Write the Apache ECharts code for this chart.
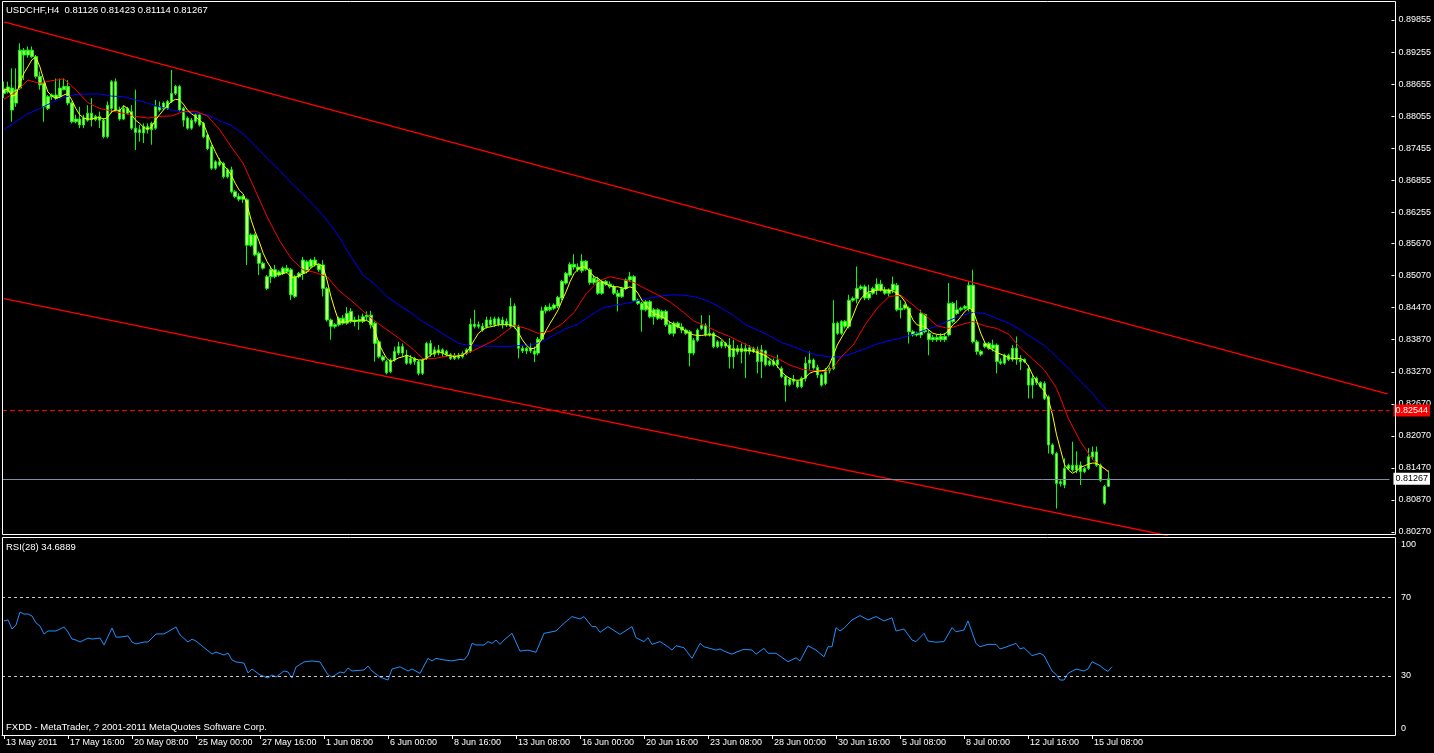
<!DOCTYPE html>
<html><head><meta charset="utf-8">
<script src="https://cdn.jsdelivr.net/npm/echarts@6/dist/echarts.min.js"></script>
<style>html,body{margin:0;padding:0;background:#000;}#c{width:1434px;height:753px;}</style>
</head><body><div id="c"></div>
<script>
// ---- data ----
const header = 'USDCHF,H4  0.81126 0.81423 0.81114 0.81267';
const rsiTitle = 'RSI(28) 34.6889';
const footer = 'FXDD - MetaTrader, ? 2001-2011 MetaQuotes Software Corp.';

// [open, close, low, high] per H4 bar
const candles = [
[0.8848,0.8856,0.8839,0.8870],[0.8851,0.8860,0.8848,0.8870],[0.8858,0.8817,0.8795,0.8895],[0.8830,0.8855,0.8823,0.8895],
[0.8858,0.8929,0.8855,0.8942],[0.8929,0.8920,0.8873,0.8933],[0.8920,0.8929,0.8915,0.8936],[0.8929,0.8917,0.8914,0.8936],
[0.8917,0.8880,0.8876,0.8920],[0.8880,0.8864,0.8855,0.8889],[0.8867,0.8823,0.8795,0.8870],[0.8820,0.8842,0.8817,0.8845],
[0.8842,0.8845,0.8836,0.8848],[0.8845,0.8839,0.8836,0.8876],[0.8842,0.8858,0.8839,0.8876],[0.8855,0.8861,0.8854,0.8876],
[0.8861,0.8830,0.8826,0.8873],[0.8830,0.8795,0.8792,0.8833],[0.8795,0.8800,0.8792,0.8808],[0.8800,0.8789,0.8783,0.8823],
[0.8789,0.8802,0.8783,0.8808],[0.8798,0.8811,0.8795,0.8826],[0.8811,0.8799,0.8786,0.8839],[0.8799,0.8805,0.8796,0.8808],
[0.8805,0.8798,0.8783,0.8814],[0.8798,0.8767,0.8764,0.8802],[0.8767,0.8826,0.8764,0.8833],[0.8820,0.8870,0.8811,0.8873],
[0.8870,0.8817,0.8814,0.8876],[0.8817,0.8800,0.8797,0.8823],[0.8800,0.8820,0.8798,0.8826],[0.8820,0.8811,0.8808,0.8823],
[0.8814,0.8783,0.8780,0.8826],[0.8783,0.8775,0.8742,0.8855],[0.8775,0.8780,0.8758,0.8789],[0.8774,0.8786,0.8755,0.8792],
[0.8786,0.8780,0.8773,0.8792],[0.8780,0.8792,0.8752,0.8795],[0.8783,0.8823,0.8780,0.8836],[0.8823,0.8817,0.8814,0.8833],
[0.8820,0.8830,0.8817,0.8833],[0.8820,0.8833,0.8817,0.8836],[0.8833,0.8848,0.8830,0.8892],[0.8848,0.8861,0.8845,0.8864],
[0.8861,0.8817,0.8814,0.8864],[0.8820,0.8798,0.8786,0.8823],[0.8802,0.8783,0.8780,0.8805],[0.8783,0.8798,0.8780,0.8802],
[0.8796,0.8808,0.8792,0.8811],[0.8808,0.8789,0.8786,0.8811],[0.8792,0.8767,0.8764,0.8795],[0.8770,0.8745,0.8742,0.8773],
[0.8748,0.8708,0.8705,0.8752],[0.8708,0.8720,0.8705,0.8723],[0.8720,0.8714,0.8711,0.8727],[0.8717,0.8692,0.8689,0.8720],
[0.8692,0.8705,0.8689,0.8708],[0.8705,0.8664,0.8661,0.8711],[0.8664,0.8655,0.8652,0.8667],[0.8655,0.8650,0.8646,0.8661],
[0.8650,0.8655,0.8643,0.8658],[0.8649,0.8564,0.8527,0.8652],[0.8564,0.8583,0.8561,0.8586],[0.8583,0.8546,0.8543,0.8586],
[0.8549,0.8530,0.8508,0.8552],[0.8530,0.8521,0.8518,0.8533],[0.8505,0.8483,0.8480,0.8508],[0.8505,0.8518,0.8493,0.8524],
[0.8518,0.8505,0.8502,0.8527],[0.8508,0.8514,0.8505,0.8517],[0.8511,0.8521,0.8508,0.8524],[0.8521,0.8514,0.8511,0.8527],
[0.8518,0.8471,0.8461,0.8521],[0.8468,0.8505,0.8465,0.8508],[0.8505,0.8511,0.8502,0.8514],[0.8511,0.8536,0.8499,0.8542],
[0.8533,0.8515,0.8511,0.8536],[0.8524,0.8536,0.8521,0.8539],[0.8536,0.8527,0.8524,0.8542],[0.8527,0.8518,0.8514,0.8530],
[0.8527,0.8483,0.8468,0.8536],[0.8483,0.8424,0.8421,0.8486],[0.8424,0.8412,0.8387,0.8427],[0.8412,0.8415,0.8408,0.8418],
[0.8415,0.8427,0.8412,0.8430],[0.8427,0.8418,0.8415,0.8433],[0.8418,0.8436,0.8415,0.8448],[0.8440,0.8421,0.8418,0.8446],
[0.8421,0.8424,0.8412,0.8430],[0.8424,0.8421,0.8405,0.8433],[0.8421,0.8430,0.8418,0.8436],[0.8430,0.8433,0.8424,0.8440],
[0.8433,0.8415,0.8408,0.8441],[0.8418,0.8380,0.8346,0.8421],[0.8383,0.8355,0.8352,0.8386],[0.8355,0.8349,0.8346,0.8358],
[0.8346,0.8325,0.8322,0.8349],[0.8327,0.8349,0.8324,0.8352],[0.8349,0.8365,0.8346,0.8374],[0.8362,0.8374,0.8358,0.8383],
[0.8374,0.8362,0.8355,0.8380],[0.8358,0.8343,0.8340,0.8368],[0.8343,0.8352,0.8340,0.8358],[0.8352,0.8346,0.8340,0.8355],
[0.8346,0.8324,0.8320,0.8349],[0.8324,0.8349,0.8321,0.8352],[0.8352,0.8380,0.8349,0.8383],[0.8380,0.8360,0.8355,0.8386],
[0.8360,0.8368,0.8355,0.8374],[0.8368,0.8362,0.8358,0.8377],[0.8362,0.8368,0.8355,0.8371],[0.8365,0.8359,0.8355,0.8368],
[0.8359,0.8352,0.8349,0.8362],[0.8352,0.8358,0.8349,0.8362],[0.8358,0.8353,0.8350,0.8362],[0.8355,0.8361,0.8352,0.8365],
[0.8361,0.8368,0.8358,0.8371],[0.8365,0.8416,0.8362,0.8427],[0.8416,0.8412,0.8408,0.8443],[0.8412,0.8415,0.8408,0.8421],
[0.8412,0.8405,0.8402,0.8418],[0.8411,0.8424,0.8408,0.8430],[0.8424,0.8415,0.8412,0.8430],[0.8415,0.8426,0.8411,0.8430],
[0.8426,0.8416,0.8412,0.8430],[0.8416,0.8424,0.8408,0.8430],[0.8421,0.8415,0.8411,0.8427],[0.8412,0.8449,0.8408,0.8465],
[0.8450,0.8412,0.8408,0.8455],[0.8412,0.8371,0.8352,0.8415],[0.8371,0.8366,0.8362,0.8377],[0.8366,0.8371,0.8360,0.8374],
[0.8371,0.8366,0.8362,0.8380],[0.8366,0.8360,0.8345,0.8374],[0.8362,0.8388,0.8358,0.8392],[0.8388,0.8441,0.8385,0.8449],
[0.8441,0.8448,0.8436,0.8452],[0.8448,0.8443,0.8440,0.8455],[0.8446,0.8452,0.8443,0.8455],[0.8450,0.8466,0.8446,0.8469],
[0.8465,0.8496,0.8461,0.8499],[0.8493,0.8511,0.8490,0.8514],[0.8508,0.8528,0.8505,0.8532],[0.8528,0.8523,0.8518,0.8547],
[0.8523,0.8518,0.8514,0.8530],[0.8516,0.8534,0.8512,0.8547],[0.8534,0.8519,0.8516,0.8536],[0.8518,0.8494,0.8490,0.8521],
[0.8494,0.8502,0.8490,0.8508],[0.8499,0.8474,0.8471,0.8505],[0.8474,0.8496,0.8471,0.8499],[0.8496,0.8491,0.8488,0.8499],
[0.8491,0.8486,0.8483,0.8496],[0.8486,0.8474,0.8471,0.8490],[0.8474,0.8468,0.8440,0.8480],[0.8468,0.8483,0.8465,0.8486],
[0.8483,0.8499,0.8480,0.8502],[0.8499,0.8505,0.8496,0.8514],[0.8505,0.8461,0.8458,0.8508],[0.8461,0.8455,0.8452,0.8464],
[0.8455,0.8443,0.8402,0.8458],[0.8443,0.8458,0.8440,0.8461],[0.8458,0.8430,0.8427,0.8461],[0.8430,0.8443,0.8415,0.8446],
[0.8443,0.8427,0.8424,0.8446],[0.8427,0.8440,0.8424,0.8443],[0.8440,0.8415,0.8411,0.8443],[0.8415,0.8399,0.8396,0.8421],
[0.8399,0.8418,0.8393,0.8421],[0.8418,0.8411,0.8408,0.8421],[0.8411,0.8405,0.8399,0.8418],[0.8405,0.8399,0.8396,0.8408],
[0.8402,0.8362,0.8337,0.8405],[0.8362,0.8386,0.8358,0.8390],[0.8386,0.8405,0.8383,0.8408],[0.8408,0.8414,0.8405,0.8433],
[0.8414,0.8396,0.8393,0.8418],[0.8396,0.8399,0.8393,0.8433],[0.8399,0.8374,0.8371,0.8402],[0.8374,0.8383,0.8371,0.8386],
[0.8383,0.8375,0.8371,0.8386],[0.8375,0.8380,0.8371,0.8383],[0.8377,0.8355,0.8333,0.8390],[0.8355,0.8371,0.8333,0.8387],
[0.8371,0.8364,0.8359,0.8377],[0.8364,0.8371,0.8343,0.8380],[0.8371,0.8365,0.8315,0.8380],[0.8365,0.8372,0.8359,0.8377],
[0.8371,0.8365,0.8362,0.8374],[0.8368,0.8346,0.8324,0.8374],[0.8346,0.8368,0.8315,0.8377],[0.8366,0.8340,0.8337,0.8368],
[0.8340,0.8347,0.8337,0.8350],[0.8347,0.8340,0.8337,0.8352],[0.8340,0.8349,0.8334,0.8359],[0.8333,0.8318,0.8315,0.8337],
[0.8318,0.8302,0.8271,0.8321],[0.8303,0.8313,0.8300,0.8316],[0.8313,0.8309,0.8303,0.8321],[0.8309,0.8299,0.8296,0.8312],
[0.8299,0.8315,0.8296,0.8318],[0.8315,0.8343,0.8309,0.8355],[0.8343,0.8349,0.8331,0.8365],[0.8349,0.8334,0.8331,0.8352],
[0.8335,0.8321,0.8315,0.8340],[0.8321,0.8302,0.8299,0.8324],[0.8305,0.8330,0.8302,0.8334],[0.8330,0.8333,0.8324,0.8337],
[0.8333,0.8418,0.8330,0.8461],[0.8418,0.8399,0.8396,0.8421],[0.8399,0.8421,0.8396,0.8424],[0.8421,0.8412,0.8408,0.8424],
[0.8412,0.8461,0.8408,0.8471],[0.8461,0.8464,0.8458,0.8468],[0.8464,0.8483,0.8455,0.8524],[0.8483,0.8486,0.8480,0.8490],
[0.8486,0.8465,0.8461,0.8490],[0.8465,0.8474,0.8461,0.8490],[0.8474,0.8483,0.8471,0.8486],[0.8480,0.8491,0.8471,0.8502],
[0.8491,0.8480,0.8477,0.8499],[0.8480,0.8474,0.8471,0.8486],[0.8474,0.8480,0.8468,0.8483],[0.8480,0.8491,0.8474,0.8505],
[0.8489,0.8443,0.8440,0.8493],[0.8443,0.8446,0.8427,0.8461],[0.8446,0.8452,0.8443,0.8455],[0.8446,0.8402,0.8380,0.8449],
[0.8402,0.8396,0.8393,0.8405],[0.8396,0.8399,0.8393,0.8402],[0.8396,0.8436,0.8390,0.8443],[0.8434,0.8402,0.8399,0.8436],
[0.8399,0.8387,0.8358,0.8405],[0.8387,0.8391,0.8383,0.8396],[0.8391,0.8387,0.8383,0.8396],[0.8387,0.8393,0.8383,0.8399],
[0.8393,0.8387,0.8383,0.8399],[0.8396,0.8455,0.8393,0.8493],[0.8455,0.8421,0.8418,0.8458],[0.8436,0.8443,0.8433,0.8461],
[0.8443,0.8446,0.8440,0.8449],[0.8446,0.8449,0.8443,0.8452],[0.8446,0.8489,0.8440,0.8496],[0.8489,0.8383,0.8380,0.8518],
[0.8383,0.8365,0.8359,0.8387],[0.8365,0.8360,0.8356,0.8368],[0.8374,0.8380,0.8371,0.8383],[0.8380,0.8371,0.8368,0.8383],
[0.8371,0.8377,0.8365,0.8387],[0.8377,0.8346,0.8324,0.8380],[0.8346,0.8343,0.8340,0.8352],[0.8343,0.8358,0.8340,0.8361],
[0.8358,0.8350,0.8347,0.8361],[0.8350,0.8371,0.8346,0.8377],[0.8371,0.8350,0.8340,0.8393],[0.8350,0.8346,0.8330,0.8358],
[0.8346,0.8350,0.8343,0.8352],[0.8333,0.8302,0.8277,0.8340],[0.8302,0.8315,0.8277,0.8321],[0.8315,0.8307,0.8302,0.8318],
[0.8307,0.8299,0.8296,0.8309],[0.8305,0.8277,0.8274,0.8309],[0.8280,0.8190,0.8174,0.8283],[0.8190,0.8174,0.8171,0.8193],
[0.8174,0.8118,0.8071,0.8177],[0.8118,0.8121,0.8112,0.8124],[0.8115,0.8146,0.8109,0.8165],[0.8146,0.8152,0.8143,0.8155],
[0.8152,0.8143,0.8140,0.8196],[0.8143,0.8152,0.8137,0.8178],[0.8152,0.8140,0.8115,0.8159],[0.8140,0.8146,0.8137,0.8149],
[0.8146,0.8168,0.8143,0.8184],[0.8168,0.8177,0.8162,0.8187],[0.8177,0.8152,0.8149,0.8187],[0.8152,0.8124,0.8121,0.8155],
[0.8081,0.8112,0.8078,0.8115],[0.81126,0.81267,0.81114,0.81423]
];

// yellow moving average, one value per bar
const maFast = [
.8856,.8855,.8843,.8845,.8867,.8886,.8898,.8911,.8916,.8898,.8873,.8851,.8843,.8839,.8841,.8845,.8848,.8836,.8820,.8808,
.8802,.8800,.8800,.8802,.8803,.8800,.8803,.8814,.8817,.8816,.8825,.8820,.8808,.8798,.8792,.8785,.8781,.8785,.8798,.8808,
.8817,.8825,.8833,.8837,.8836,.8828,.8817,.8810,.8805,.8798,.8792,.8773,.8755,.8739,.8724,.8714,.8706,.8695,.8680,.8667,
.8660,.8639,.8611,.8589,.8571,.8549,.8533,.8521,.8511,.8509,.8511,.8513,.8504,.8504,.8506,.8511,.8513,.8521,.8527,.8529,
.8524,.8499,.8468,.8443,.8421,.8419,.8421,.8423,.8421,.8424,.8424,.8423,.8418,.8405,.8380,.8365,.8352,.8346,.8349,.8353,
.8355,.8358,.8355,.8351,.8349,.8349,.8352,.8358,.8363,.8365,.8362,.8358,.8357,.8355,.8357,.8358,.8363,.8374,.8387,.8399,
.8405,.8410,.8411,.8413,.8415,.8415,.8415,.8415,.8411,.8401,.8387,.8377,.8370,.8371,.8377,.8390,.8405,.8418,.8430,.8443,
.8461,.8477,.8496,.8511,.8519,.8524,.8522,.8514,.8505,.8502,.8496,.8491,.8488,.8486,.8486,.8484,.8483,.8486,.8483,.8474,
.8461,.8452,.8443,.8436,.8433,.8430,.8426,.8420,.8416,.8411,.8408,.8403,.8399,.8396,.8395,.8395,.8396,.8396,.8396,.8393,
.8388,.8380,.8370,.8368,.8368,.8368,.8367,.8367,.8365,.8363,.8360,.8357,.8352,.8346,.8337,.8327,.8320,.8315,.8312,.8311,
.8312,.8316,.8324,.8327,.8328,.8329,.8330,.8340,.8358,.8377,.8390,.8403,.8415,.8433,.8452,.8465,.8472,.8477,.8478,.8480,
.8480,.8480,.8480,.8478,.8474,.8468,.8458,.8440,.8424,.8415,.8413,.8411,.8405,.8399,.8397,.8396,.8398,.8405,.8415,.8421,
.8430,.8440,.8446,.8443,.8421,.8399,.8382,.8372,.8368,.8363,.8360,.8357,.8353,.8352,.8352,.8352,.8347,.8337,.8321,.8309,
.8299,.8290,.8274,.8246,.8209,.8181,.8153,.8143,.8137,.8141,.8148,.8151,.8154,.8156,.8156,.8151,.8146,.8140
];

// red moving average [bar, value]
const maMid = [
[0,.8837],[3,.8851],[6,.8873],[9,.8867],[12,.8872],[15,.8875],[18,.8855],[21,.8831],[24,.8820],[27,.8815],[30,.8811],
[33,.8805],[36,.8802],[39,.8805],[42,.8806],[45,.8814],[48,.8815],[51,.8806],[54,.8781],[57,.8748],[60,.8717],[63,.8667],
[66,.8617],[69,.8574],[72,.8539],[75,.8518],[78,.8513],[81,.8505],[84,.8479],[87,.8461],[90,.8441],[93,.8422],[96,.8406],
[99,.8390],[102,.8373],[105,.8352],[108,.8352],[111,.8356],[114,.8357],[117,.8364],[120,.8375],[123,.8386],[126,.8403],
[128,.8414],[131,.8408],[134,.8399],[137,.8403],[140,.8417],[143,.8438],[146,.8473],[149,.8496],[152,.8505],[155,.8500],
[158,.8494],[161,.8482],[164,.8471],[167,.8458],[170,.8441],[173,.8422],[176,.8413],[179,.8402],[182,.8393],[185,.8382],
[188,.8371],[191,.8360],[194,.8352],[197,.8340],[200,.8332],[203,.8329],[206,.8327],[208,.8335],[210,.8355],[213,.8377],
[216,.8415],[219,.8446],[222,.8468],[225,.8470],[228,.8452],[231,.8433],[234,.8413],[237,.8408],[240,.8415],[243,.8421],
[246,.8413],[249,.8408],[252,.8397],[255,.8371],[258,.8351],[261,.8330],[264,.8296],[267,.8239],[270,.8196],[273,.8163],
[275,.8151],[277,.8140]
];

// blue moving average [bar, value]
const maSlow = [
[0,.8780],[3,.8795],[6,.8810],[9,.8820],[12,.8831],[15,.8841],[18,.8846],[21,.8847],[24,.8847],[27,.8843],[30,.8842],
[33,.8836],[36,.8830],[39,.8823],[42,.8817],[45,.8814],[48,.8811],[51,.8808],[54,.8797],[57,.8788],[60,.8772],[63,.8750],
[66,.8727],[69,.8705],[72,.8681],[75,.8660],[78,.8636],[81,.8611],[84,.8580],[87,.8543],[90,.8508],[93,.8491],[96,.8468],
[99,.8452],[102,.8438],[105,.8421],[108,.8408],[111,.8394],[114,.8380],[117,.8376],[120,.8375],[123,.8375],[126,.8374],
[129,.8376],[132,.8377],[135,.8383],[138,.8396],[141,.8408],[144,.8416],[147,.8432],[150,.8446],[153,.8451],[156,.8455],
[159,.8460],[162,.8465],[165,.8469],[168,.8471],[171,.8470],[174,.8466],[177,.8458],[180,.8446],[183,.8432],[186,.8415],
[189,.8405],[192,.8394],[195,.8382],[198,.8374],[201,.8365],[204,.8358],[207,.8355],[210,.8355],[213,.8362],[216,.8370],
[219,.8379],[222,.8385],[225,.8390],[228,.8397],[231,.8405],[234,.8413],[237,.8423],[240,.8432],[243,.8438],[246,.8436],
[249,.8427],[252,.8418],[255,.8405],[258,.8390],[261,.8376],[264,.8355],[267,.8333],[270,.8309],[273,.8287],[275,.8268],
[277,.8252]
];

// RSI(28) [bar, value]
const rsi = [
[0,57.9],[1,58.4],[2,53.8],[3,55.8],[4,62.4],[5,61.4],[6,61.4],[7,60.4],[8,56.9],[9,55.3],[10,51.3],[11,52.8],[13,52.8],
[15,54.8],[16,52.3],[17,48.7],[18,48.2],[19,47.2],[21,49.2],[22,48.7],[24,49.2],[25,45.7],[27,54.3],[28,49.7],[29,49.7],
[31,50.3],[32,47.2],[33,46.2],[35,47.2],[36,47.2],[38,51.3],[40,51.3],[43,54.8],[44,50.8],[46,47.2],[47,48.7],[48,47.7],
[52,41.1],[53,42.1],[55,40.6],[56,41.6],[57,38.1],[58,37.1],[60,36.5],[61,31.5],[62,33.5],[64,30.5],[66,28.9],[67,30.5],
[68,29.4],[70,32.5],[71,32.0],[72,28.9],[73,34.5],[75,37.1],[77,37.6],[79,37.1],[81,30.5],[82,29.4],[84,32.0],[85,31.5],
[86,34.0],[87,32.5],[90,33.0],[91,35.0],[92,32.5],[94,29.4],[96,27.9],[97,33.5],[99,34.6],[101,32.5],[102,33.5],[104,31.3],
[106,38.9],[107,37.6],[108,38.9],[110,38.1],[112,37.6],[114,38.4],[115,38.1],[116,40.6],[117,46.5],[118,45.7],[120,45.7],
[121,47.4],[122,46.5],[123,48.2],[124,46.0],[125,48.2],[127,51.6],[129,42.6],[131,43.1],[133,42.0],[135,51.6],[137,52.4],
[138,52.8],[140,56.7],[142,60.1],[144,58.9],[145,60.1],[147,55.0],[148,55.0],[149,52.1],[151,55.0],[154,51.1],[155,52.4],
[157,55.0],[158,49.4],[160,47.4],[161,49.4],[162,46.0],[164,47.4],[166,44.8],[167,43.1],[168,45.3],[170,44.3],[172,38.9],
[174,46.5],[175,44.8],[178,43.1],[179,43.7],[180,42.6],[182,41.0],[183,42.0],[185,43.5],[187,43.1],[188,41.0],[190,44.0],
[191,41.5],[193,41.5],[196,37.2],[198,39.2],[199,37.6],[201,45.3],[203,43.1],[205,39.7],[206,44.8],[207,44.8],[208,54.5],
[209,52.8],[210,54.2],[212,58.4],[214,60.6],[216,58.4],[218,60.1],[220,57.9],[222,59.5],[223,52.8],[225,53.8],[227,48.2],
[228,47.4],[230,51.6],[231,47.7],[233,47.1],[235,47.4],[237,54.5],[238,52.4],[240,53.3],[241,57.9],[243,46.5],[244,44.8],
[246,46.0],[248,46.0],[249,43.7],[250,44.3],[253,46.5],[254,43.7],[255,44.3],[257,40.3],[259,41.5],[260,40.3],[262,32.5],
[263,30.8],[264,27.9],[265,27.9],[266,31.3],[268,33.5],[270,32.5],[271,33.5],[272,37.2],[274,35.2],[275,33.5],[276,32.3],
[277,34.69]
];

const channelUpper = [[0,0.89820],[347,0.82858]];
const channelLower = [[0,0.84640],[292,0.80201]];
const levelRed = 0.82544;
const lastPrice = 0.81267;
const rsiLevels = [70, 30];

const priceTicks = [0.80270,0.80870,0.81470,0.82070,0.82670,0.83270,0.83870,0.84470,0.85070,0.85670,
                    0.86255,0.86855,0.87455,0.88055,0.88655,0.89255,0.89855];
const rsiTicks = [0, 30, 70, 100];
const timeLabelIdx = [0,16,32,48,64,80,96,112,128,144,160,176,192,208,224,240,256,272];
const timeLabels = ['13 May 2011','17 May 16:00','20 May 08:00','25 May 00:00','27 May 16:00','1 Jun 08:00',
  '6 Jun 00:00','8 Jun 16:00','13 Jun 08:00','16 Jun 00:00','20 Jun 16:00','23 Jun 08:00','28 Jun 00:00',
  '30 Jun 16:00','5 Jul 08:00','8 Jul 00:00','12 Jul 16:00','15 Jul 08:00'];

// ---- chart ----
const SLOTS = 348;
const cats = Array.from({length: SLOTS}, (_, i) => String(i));
const labelMap = {};
timeLabelIdx.forEach((k, j) => { labelMap[k] = timeLabels[j]; });
const FONT = '"Liberation Sans", Arial, sans-serif';
const txt = { color: '#ffffff', fontFamily: FONT, fontSize: 9 };

const chart = echarts.init(document.getElementById('c'), null, { renderer: 'canvas' });
chart.setOption({
  backgroundColor: '#000000',
  animation: false,
  grid: [
    { left: 2, top: 2, width: 1392, height: 533 },
    { left: 2, top: 538, width: 1392, height: 197 }
  ],
  xAxis: [
    { type: 'category', gridIndex: 0, data: cats, boundaryGap: true,
      axisLine: { show: false }, axisTick: { show: false }, axisLabel: { show: false }, splitLine: { show: false } },
    { type: 'category', gridIndex: 1, data: cats, boundaryGap: true,
      axisLine: { show: true, lineStyle: { color: '#ffffff', width: 1 } },
      axisTick: { show: true, alignWithLabel: true, length: 4, interval: (i) => labelMap[i] !== undefined,
                  lineStyle: { color: '#ffffff' } },
      axisLabel: Object.assign({ interval: (i) => labelMap[i] !== undefined,
                  formatter: (v, i) => labelMap[i] || '', align: 'left', margin: 3, padding: [0, 0, 0, 2] }, txt),
      splitLine: { show: false } }
  ],
  yAxis: [
    { type: 'value', gridIndex: 0, position: 'right', offset: 2, min: 0.80214, max: 0.90192,
      splitLine: { show: false }, axisLine: { show: false },
      axisTick: { show: true, length: 3, customValues: priceTicks, lineStyle: { color: '#ffffff' } },
      axisLabel: Object.assign({ customValues: priceTicks, formatter: (v) => v.toFixed(5), margin: 7 }, txt) },
    { type: 'value', gridIndex: 1, position: 'right', offset: 2, min: 0, max: 100,
      splitLine: { show: false }, axisLine: { show: false }, axisTick: { show: false },
      axisLabel: Object.assign({ customValues: rsiTicks, margin: 5,
        formatter: (v) => v === 100 ? '{t|100}' : (v === 0 ? '{b|0}' : String(v)),
        rich: { t: Object.assign({ padding: [14, 0, 0, 0] }, txt), b: Object.assign({ padding: [0, 0, 12, 0] }, txt) }
      }, txt) }
  ],
  series: [
    { type: 'line', name: 'channelUpper', xAxisIndex: 0, yAxisIndex: 0, data: channelUpper,
      showSymbol: false, silent: true, lineStyle: { color: '#ff0000', width: 1.3 } },
    { type: 'line', name: 'channelLower', xAxisIndex: 0, yAxisIndex: 0, data: channelLower,
      showSymbol: false, silent: true, lineStyle: { color: '#ff0000', width: 1.3 } },
    { type: 'candlestick', name: 'USDCHF', xAxisIndex: 0, yAxisIndex: 0, data: candles, barWidth: 3,
      itemStyle: { color: '#b8ff70', color0: '#b8ff70', borderColor: '#00ff00', borderColor0: '#00ff00', borderWidth: 1 } },
    { type: 'line', name: 'maSlow', xAxisIndex: 0, yAxisIndex: 0, data: maSlow,
      showSymbol: false, silent: true, lineStyle: { color: '#0000ff', width: 1 } },
    { type: 'line', name: 'maMid', xAxisIndex: 0, yAxisIndex: 0, data: maMid,
      showSymbol: false, silent: true, lineStyle: { color: '#ff0000', width: 1 } },
    { type: 'line', name: 'maFast', xAxisIndex: 0, yAxisIndex: 0, data: maFast,
      showSymbol: false, silent: true, lineStyle: { color: '#ffff00', width: 1 },
      markLine: { silent: true, symbol: ['none', 'none'], animation: false, precision: 5,
        data: [
          { yAxis: levelRed, lineStyle: { color: '#ff0000', type: [5, 3], width: 1 },
            label: { show: true, position: 'end', distance: 4, formatter: levelRed.toFixed(5), backgroundColor: '#ff0000',
                     color: '#ffffff', fontFamily: FONT, fontSize: 9, padding: [2, 2, 1, 2] } },
          { yAxis: lastPrice, lineStyle: { color: '#7f8fa6', type: 'solid', width: 1 },
            label: { show: true, position: 'end', distance: 4, formatter: lastPrice.toFixed(5), backgroundColor: '#ffffff',
                     color: '#000000', fontFamily: FONT, fontSize: 9, padding: [2, 2, 1, 2] } }
        ] } },
    { type: 'line', name: 'RSI', xAxisIndex: 1, yAxisIndex: 1, data: rsi,
      showSymbol: false, silent: true, lineStyle: { color: '#1e90ff', width: 1 },
      markLine: { silent: true, symbol: ['none', 'none'], animation: false, label: { show: false },
        data: rsiLevels.map(v => ({ yAxis: v, lineStyle: { color: '#c8c8c8', type: [3, 3], width: 1 } })) } }
  ],
  graphic: [
    { type: 'rect', silent: true, shape: { x: 2.5, y: 1.5, width: 1393, height: 533 },
      style: { fill: null, stroke: '#ffffff', lineWidth: 1 }, z: 100 },
    { type: 'rect', silent: true, shape: { x: 2.5, y: 537.5, width: 1393, height: 198 },
      style: { fill: null, stroke: '#ffffff', lineWidth: 1 }, z: 100 },
    { type: 'text', left: 6, top: 5, silent: true, style: { text: header, fill: '#ffffff', font: '9.5px ' + FONT } },
    { type: 'text', left: 6, top: 542, silent: true, style: { text: rsiTitle, fill: '#ffffff', font: '9.5px ' + FONT } },
    { type: 'text', left: 6, top: 722, silent: true, style: { text: footer, fill: '#ffffff', font: '9.5px ' + FONT } }
  ]
});
</script>
</body></html>
